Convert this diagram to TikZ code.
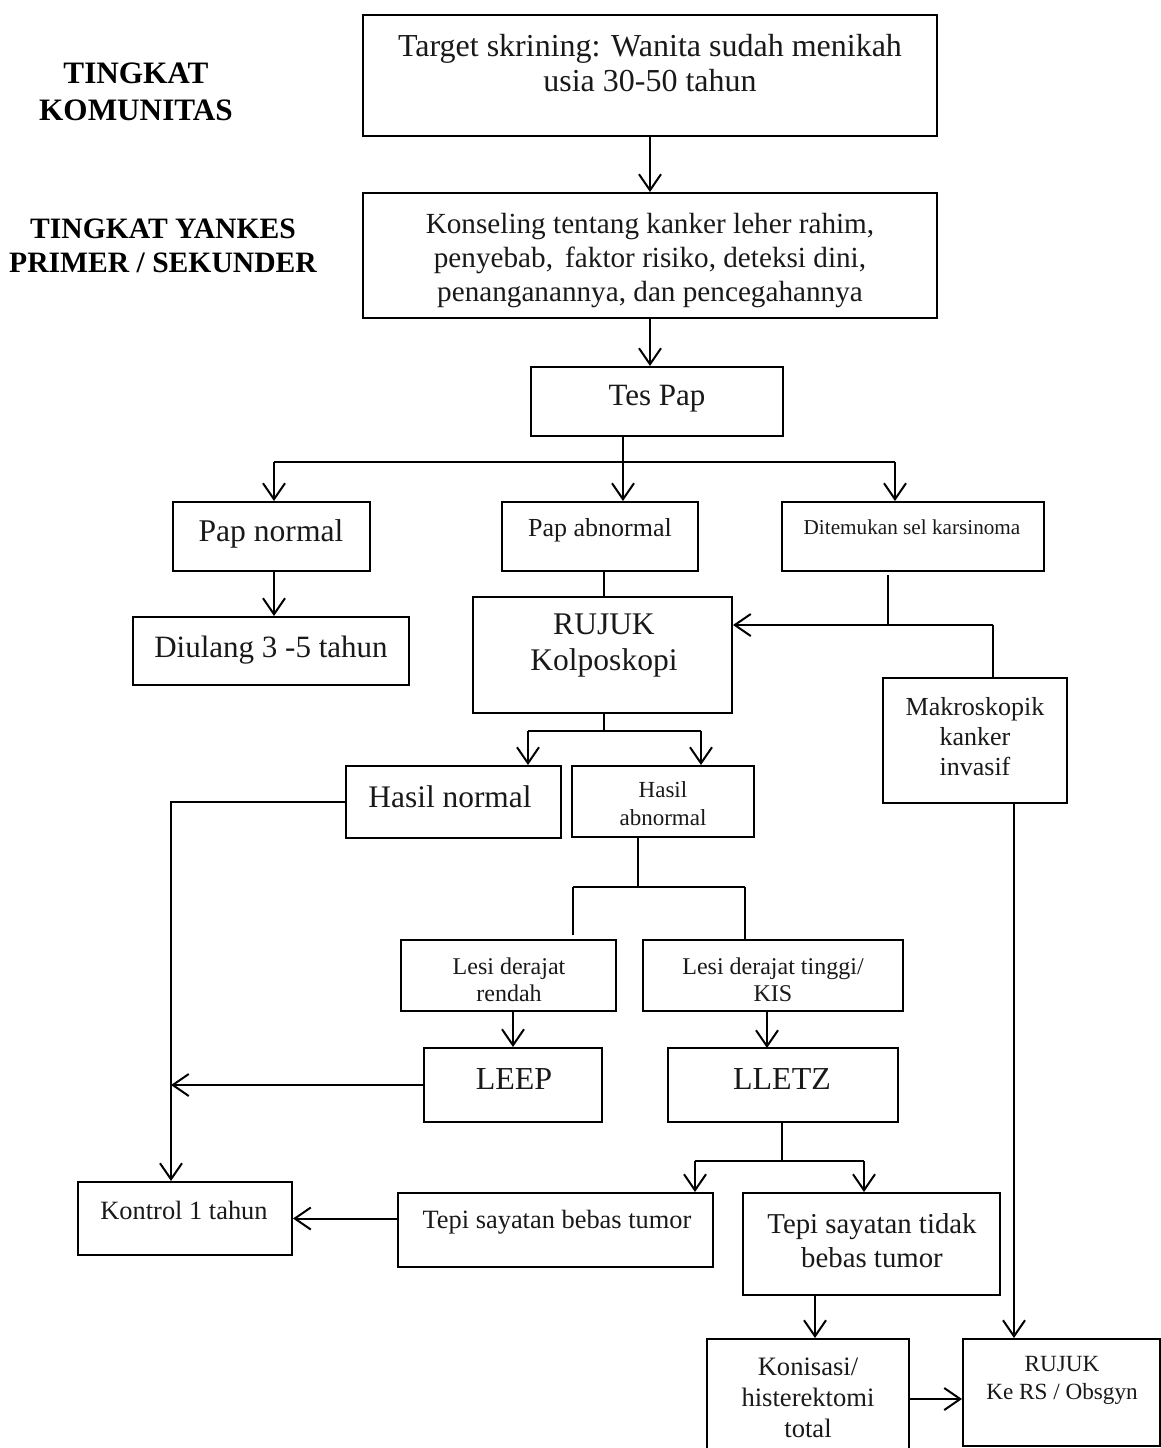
\documentclass[tikz,border=0pt]{standalone}
\usepackage{fontspec}
\setmainfont{Liberation Serif}
\usetikzlibrary{arrows.meta,calc}
\newcommand{\myfs}[2]{\fontsize{#1}{#2}\selectfont}
\tikzset{
  box/.style={draw, line width=1pt, inner sep=0pt},
  txt/.style={align=center, inner sep=0pt, text=black!90},
  arr/.style={-{Straight Barb[length=8pt,width=11pt]}},
  lbl/.style={align=center, inner sep=0pt, font=\bfseries}
}
\begin{document}
\begin{tikzpicture}[x=0.5pt,y=-0.5pt,line width=1pt]
\useasboundingbox (0,0) rectangle (1161,1448);
\clip (0,0) rectangle (1161,1448);
\fill[white] (0,0) rectangle (1161,1448);

% side labels
\node[lbl,font=\bfseries\myfs{15.6pt}{18.5pt}] (lvl1) at (136,92) {TINGKAT\\KOMUNITAS};
\node[lbl,font=\bfseries\myfs{14.8pt}{17pt}] (lvl2) at (163,246) {TINGKAT YANKES\\PRIMER / SEKUNDER};

% boxes
\node[box,minimum width=287pt,minimum height=60.5pt] (target) at (650,75.5) {};
\node[box,minimum width=287pt,minimum height=62.5pt] (kons) at (650,255.5) {};
\node[box,minimum width=126pt,minimum height=34.5pt] (tespap) at (657,401.5) {};
\node[box,minimum width=98.5pt,minimum height=34.5pt] (papn) at (271.5,536.5) {};
\node[box,minimum width=98pt,minimum height=34.5pt] (papab) at (600,536.5) {};
\node[box,minimum width=131pt,minimum height=34.5pt] (ditem) at (913,536.5) {};
\node[box,minimum width=138pt,minimum height=34pt] (diulang) at (271,651) {};
\node[box,minimum width=129.5pt,minimum height=58pt] (rujuk) at (602.5,655) {};
\node[box,minimum width=92pt,minimum height=62.5pt] (makro) at (975,740.5) {};
\node[box,minimum width=107.5pt,minimum height=36pt] (hasiln) at (453.5,802) {};
\node[box,minimum width=91pt,minimum height=35.5pt] (hasilab) at (663,801.5) {};
\node[box,minimum width=107.5pt,minimum height=35.5pt] (lesir) at (508.5,975.5) {};
\node[box,minimum width=130pt,minimum height=35.5pt] (lesit) at (773,975.5) {};
\node[box,minimum width=89pt,minimum height=37pt] (leep) at (513,1085) {};
\node[box,minimum width=115pt,minimum height=37pt] (lletz) at (783,1085) {};
\node[box,minimum width=107pt,minimum height=36.5pt] (kontrol) at (185,1218.5) {};
\node[box,minimum width=157.5pt,minimum height=37pt] (tepib) at (555.5,1230) {};
\node[box,minimum width=128.5pt,minimum height=51pt] (tepit) at (871.5,1244) {};
\node[box,minimum width=101pt,minimum height=65.5pt] (konis) at (808,1404.5) {};
\node[box,minimum width=98.5pt,minimum height=53.5pt] (rujukrs) at (1061.5,1392.5) {};

% texts
\node[txt,font=\myfs{16pt}{17.5pt}] (t-target) at (650,63) {Target skrining: Wanita sudah menikah\\usia 30-50 tahun};
\node[txt,font=\myfs{14.6pt}{17pt}] (t-kons) at (650,261) {Konseling tentang kanker leher rahim,\\penyebab,\, faktor risiko, deteksi dini,\\penanganannya, dan pencegahannya};
\node[txt,font=\myfs{15.5pt}{18pt}] (t-tespap) at (657,399) {Tes Pap};
\node[txt,font=\myfs{15.8pt}{18pt}] (t-papn) at (271,534) {Pap normal};
\node[txt,font=\myfs{13pt}{15pt}] (t-papab) at (600,530) {Pap abnormal};
\node[txt,font=\myfs{10.6pt}{12pt}] (t-ditem) at (912,527) {Ditemukan sel karsinoma};
\node[txt,font=\myfs{15.5pt}{18pt}] (t-diulang) at (271,650) {Diulang 3 -5 tahun};
\node[txt,font=\myfs{15.75pt}{18pt}] (t-rujuk) at (604,646) {RUJUK\\Kolposkopi};
\node[txt,font=\myfs{13pt}{15pt}] (t-makro) at (975,737) {Makroskopik\\kanker\\invasif};
\node[txt,font=\myfs{15.7pt}{18pt}] (t-hasiln) at (450,797) {Hasil normal};
\node[txt,font=\myfs{11.5pt}{14pt}] (t-hasilab) at (663,804) {Hasil\\abnormal};
\node[txt,font=\myfs{12pt}{13.5pt}] (t-lesir) at (509,980) {Lesi derajat\\rendah};
\node[txt,font=\myfs{12pt}{13.5pt}] (t-lesit) at (773,980) {Lesi derajat tinggi/\\KIS};
\node[txt,font=\myfs{16pt}{18pt}] (t-leep) at (514,1079) {LEEP};
\node[txt,font=\myfs{16pt}{18pt}] (t-lletz) at (782,1079) {LLETZ};
\node[txt,font=\myfs{13.2pt}{15pt}] (t-kontrol) at (184,1210) {Kontrol 1 tahun};
\node[txt,font=\myfs{13.2pt}{15pt}] (t-tepib) at (557,1222) {Tepi sayatan bebas tumor};
\node[txt,font=\myfs{14.4pt}{17pt}] (t-tepit) at (872,1241) {Tepi sayatan tidak\\bebas tumor};
\node[txt,font=\myfs{13.3pt}{15.5pt}] (t-konis) at (808,1398) {Konisasi/\\histerektomi\\total};
\node[txt,font=\myfs{11.6pt}{14pt}] (t-rujukrs) at (1062,1380) {RUJUK\\Ke RS / Obsgyn};

% branch coordinates
\coordinate (tpc) at (623,462);
\coordinate (tpl) at (274,462);
\coordinate (tpr) at (895,462);
\coordinate (dtop) at (888,575);
\coordinate (dj) at (888,625);
\coordinate (mk) at (993,625);
\coordinate (rj) at (604,731);
\coordinate (rjl) at (528,731);
\coordinate (rjr) at (701,731);
\coordinate (kx) at (171,802);
\coordinate (ha) at (638,887);
\coordinate (hal) at (573,887);
\coordinate (har) at (745,887);
\coordinate (halend) at (573,935);
\coordinate (lz) at (782,1161);
\coordinate (lzl) at (695,1161);
\coordinate (lzr) at (864,1161);
\coordinate (tx) at (815,1295);
\coordinate (mx) at (1014,803);

% connectors
\draw[arr] (target.south) -- (kons.north);
\draw[arr] (kons.south) -- (kons.south |- tespap.north);
\draw[arr] (tpc |- tespap.south) -- (tpc |- papab.north);
\draw (tpl) -- (tpr);
\draw[arr] (tpl) -- (tpl |- papn.north);
\draw[arr] (tpr) -- (tpr |- ditem.north);
\draw[arr] (tpl |- papn.south) -- (tpl |- diulang.north);
\draw (rj |- papab.south) -- (rj |- rujuk.north);
\draw (dtop) -- (dj);
\draw (makro.north -| mk) -- (mk);
\draw[arr] (mk) -- (rujuk.east |- mk);
\draw (rj |- rujuk.south) -- (rj);
\draw (rjl) -- (rjr);
\draw[arr] (rjl) -- (rjl |- hasiln.north);
\draw[arr] (rjr) -- (rjr |- hasilab.north);
\draw[arr] (hasiln.west |- kx) -- (kx) -- (kx |- kontrol.north);
\draw[arr] (leep.west) -- (leep.west -| kx);
\draw (ha |- hasilab.south) -- (ha);
\draw (hal) -- (har);
\draw (hal) -- (halend);
\draw (har) -- (har |- lesit.north);
\draw[arr] (leep.north |- lesir.south) -- (leep.north);
\draw[arr] (767,1011) -- (767,1048);
\draw (lz |- lletz.south) -- (lz);
\draw (lzl) -- (lzr);
\draw[arr] (lzl) -- (lzl |- tepib.north);
\draw[arr] (lzr) -- (lzr |- tepit.north);
\draw[arr] (tepib.west |- kontrol.east) -- (kontrol.east);
\draw[arr] (tx) -- (tx |- konis.north);
\draw[arr] (mx) -- (mx |- rujukrs.north);
\draw[arr] (konis.east |- 908,1399) -- (rujukrs.west |- 908,1399);
\end{tikzpicture}
\end{document}
